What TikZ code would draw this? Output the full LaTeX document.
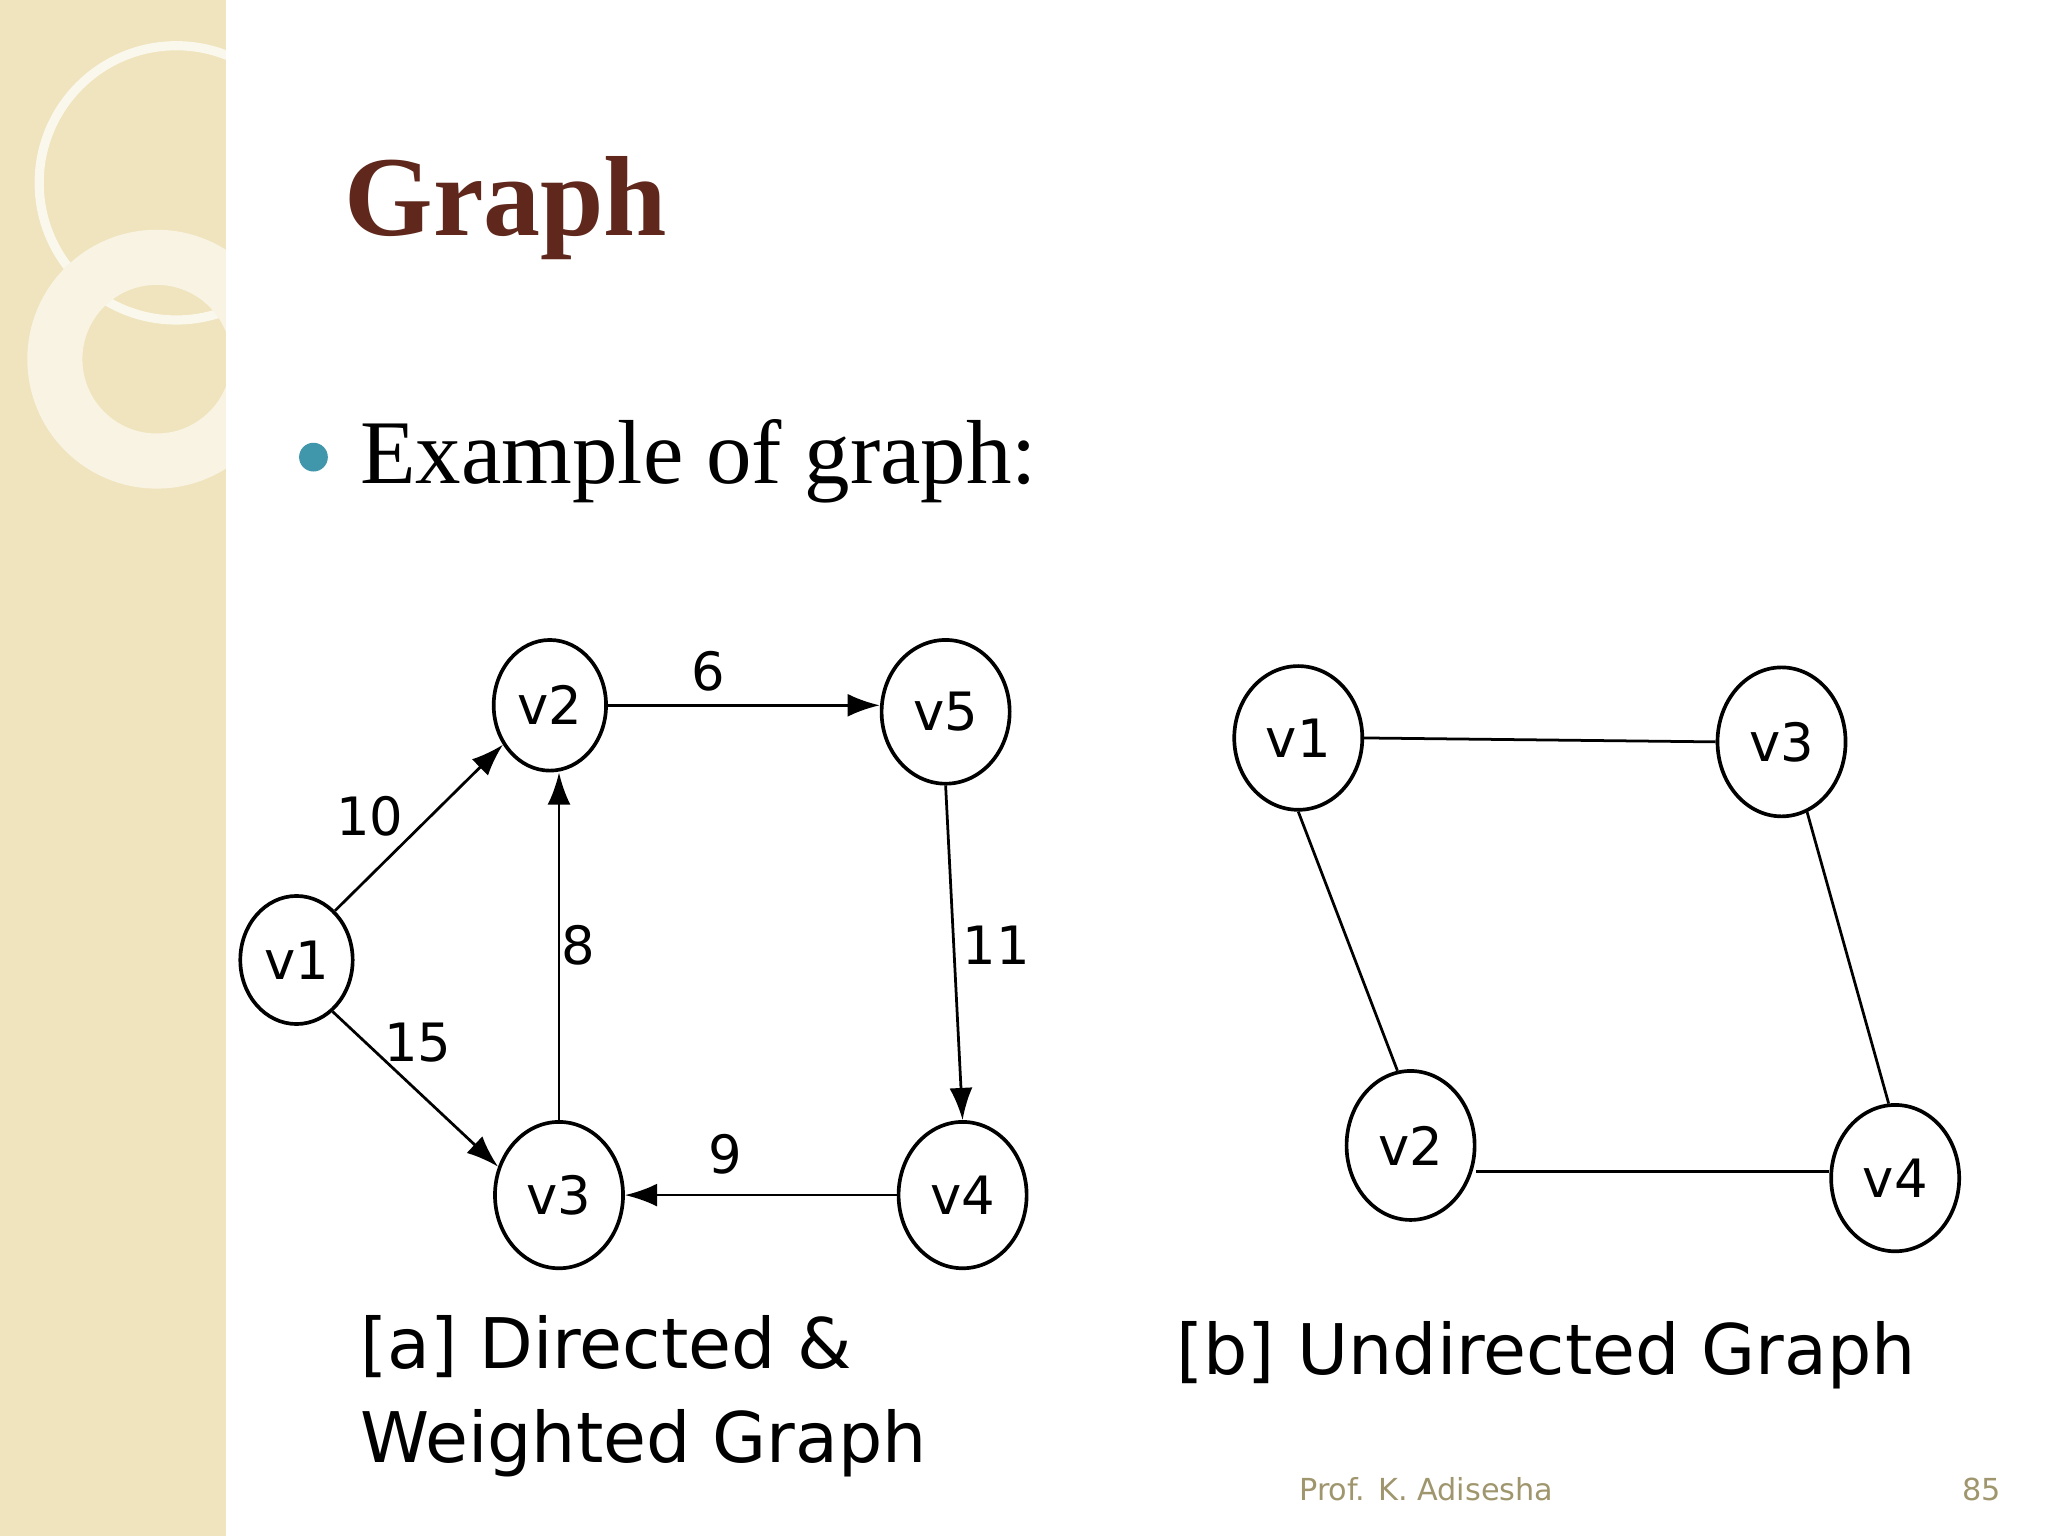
\documentclass[tikz,border=0pt]{standalone}
\usepackage{fontspec}
\setmainfont{Liberation Serif}
\newfontfamily\vfont{DejaVu Sans}
\usetikzlibrary{arrows.meta,shapes.geometric}
\definecolor{side}{RGB}{240,228,190}
\definecolor{titlec}{RGB}{96,40,28}
\definecolor{bul}{RGB}{64,150,170}
\definecolor{foot}{RGB}{160,150,110}
\tikzset{
 vx/.style={draw,thick,ellipse,inner sep=0pt,font=\vfont\fontsize{11.5}{12}\selectfont},
 ar/.style={-{Latex[length=7pt,width=5pt]},semithick},
 ln/.style={semithick},
 wt/.style={font=\vfont\fontsize{11.5}{12}\selectfont},
 captxt/.style={anchor=base west,inner sep=0pt,font=\vfont\fontsize{15.2}{16}\selectfont},
}
\begin{document}
\begin{tikzpicture}[x=0.01cm,y=-0.01cm]
\useasboundingbox (0,0) rectangle (1568,1176);
\fill[white] (0,0) rectangle (1568,1176);
\fill[side] (0,0) rectangle (173,1176);
\begin{scope}
\clip (0,0) rectangle (173,1176);
\draw[white!70!side,line width=2pt] (135,140) circle (105);
\draw[white!55!side,line width=12pt] (120,275) circle (78);
\end{scope}
\node[anchor=base west,inner sep=0pt,text=titlec,font=\bfseries\fontsize{24.8}{25}\selectfont] (title) at (263,180) {Graph};
\fill[bul] (240,350) circle (11);
\node[anchor=base west,inner sep=0pt,font=\fontsize{19.8}{20}\selectfont] (ex) at (275,370) {Example of graph:};
% graph a
\node[vx,minimum width=86*0.2845pt,minimum height=100*0.2845pt] (a2) at (421,540) {v2};
\node[vx,minimum width=98*0.2845pt,minimum height=110*0.2845pt] (a5) at (724,545) {v5};
\node[vx,minimum width=86*0.2845pt,minimum height=98*0.2845pt] (a1) at (227,735) {v1};
\node[vx,minimum width=98*0.2845pt,minimum height=112*0.2845pt] (a3) at (428,915) {v3};
\node[vx,minimum width=98*0.2845pt,minimum height=112*0.2845pt] (a4) at (737,915) {v4};
\draw[ar] (a1.52) -- (a2.220);
\draw[ar] (a1.305) -- (a3.155);
\draw[ar] (a2.east) -- (a5.west|-a2.east);
\draw[ar] (a3.north) -- (a2.south-|a3.north);
\draw[ar] (a5.south) -- (a4.north);
\draw[ar] (a4.west) -- (a3.east);
\node[wt] (w10) at (283,625) {10};
\node[wt] (w15) at (320,798) {15};
\node[wt] (w6) at (542,514) {6};
\node[wt] (w8) at (443,724) {8};
\node[wt] (w11) at (763,724) {11};
\node[wt] (w9) at (555,884) {9};
% graph b
\node[vx,minimum width=98*0.2845pt,minimum height=110*0.2845pt] (b1) at (994,565) {v1};
\node[vx,minimum width=98*0.2845pt,minimum height=114*0.2845pt] (b3) at (1364,568) {v3};
\node[vx,minimum width=98*0.2845pt,minimum height=114*0.2845pt] (b2) at (1080,877) {v2};
\node[vx,minimum width=98*0.2845pt,minimum height=112*0.2845pt] (b4) at (1451,902) {v4};
\draw[ln] (b1.east) -- (b3.west);
\draw[ln] (b1.south) -- (b2.100);
\draw[ln] (b3.290) -- (b4.95);
\draw[ln] (b2.east) ++(0,20) coordinate (p) -- (p-|b4.west) coordinate (q);
\node[captxt] (ca1) at (275,1048) {[a] Directed \&};
\node[captxt] (ca2) at (275,1120) {Weighted Graph};
\node[captxt] (cb) at (900,1052) {[b] Undirected Graph};
\node[text=foot,font=\vfont\fontsize{6.6}{7}\selectfont] (ft) at (1092,1140) {Prof. K. Adisesha};
\node[text=foot,font=\vfont\fontsize{6.6}{7}\selectfont] (pg) at (1517,1140) {85};
\end{tikzpicture}
\end{document}
